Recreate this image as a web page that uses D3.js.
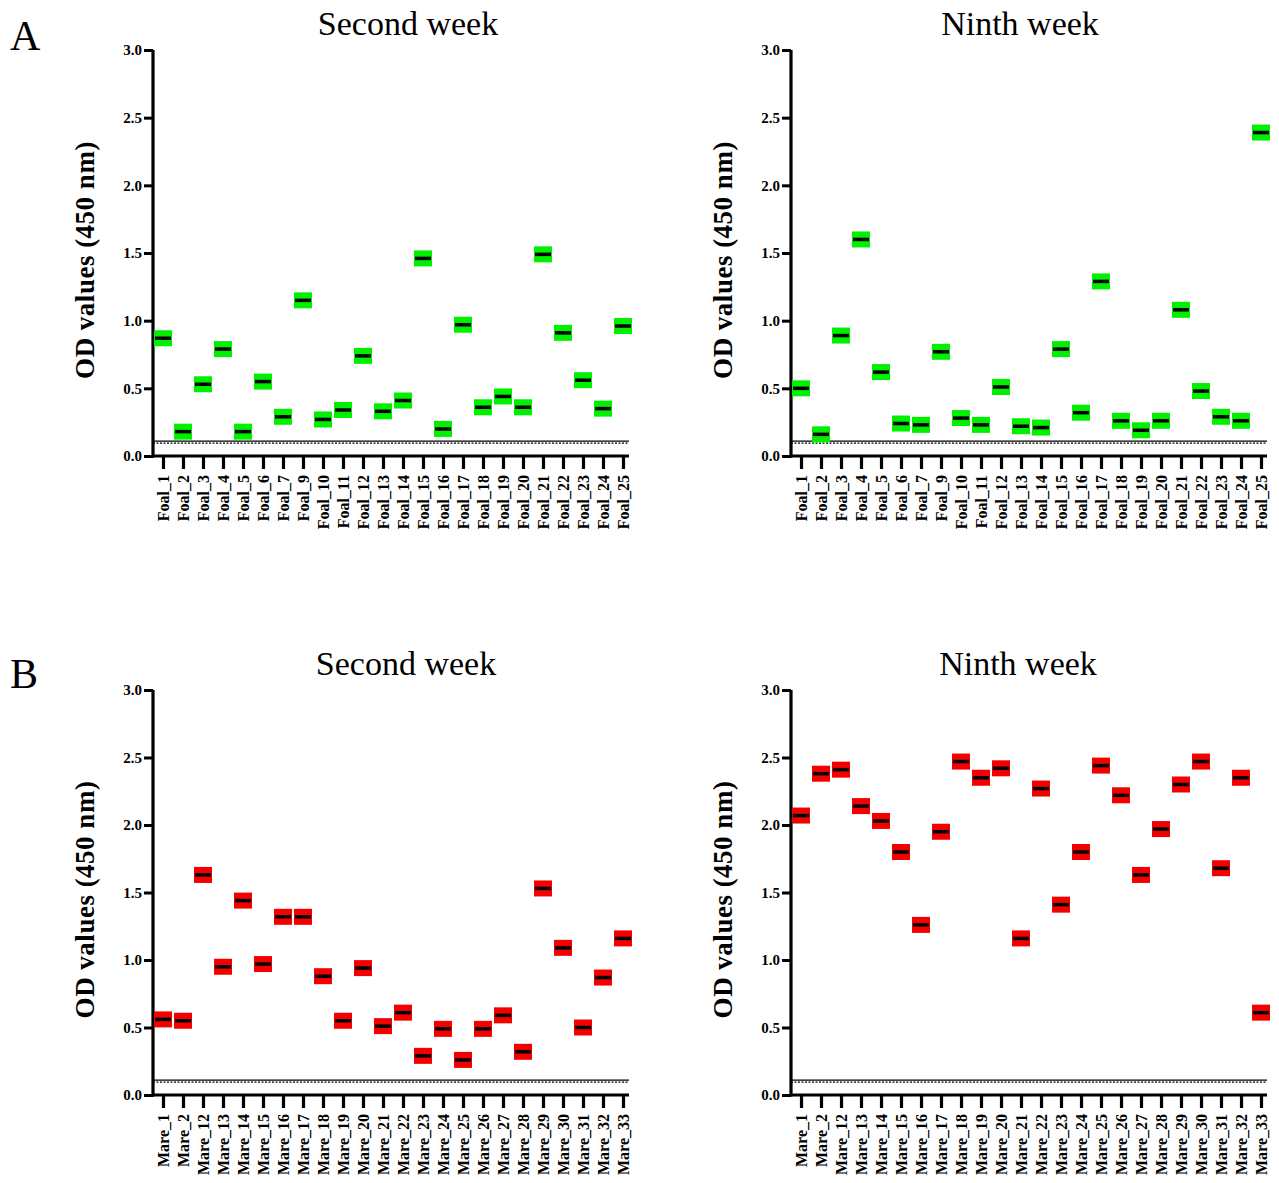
<!DOCTYPE html>
<html>
<head>
<meta charset="utf-8">
<script src="https://cdn.jsdelivr.net/npm/d3@7"></script>
<style>
  body { margin: 0; background: #fff; }
  text { font-family: "Liberation Serif", "Times New Roman", serif; }
</style>
</head>
<body>
<svg id="chart" width="1279" height="1183"></svg>
<script>
// ---- Data ----
const foals = ["Foal_1","Foal_2","Foal_3","Foal_4","Foal_5","Foal_6","Foal_7","Foal_9","Foal_10","Foal_11","Foal_12","Foal_13","Foal_14","Foal_15","Foal_16","Foal_17","Foal_18","Foal_19","Foal_20","Foal_21","Foal_22","Foal_23","Foal_24","Foal_25"];
const mares = ["Mare_1","Mare_2","Mare_12","Mare_13","Mare_14","Mare_15","Mare_16","Mare_17","Mare_18","Mare_19","Mare_20","Mare_21","Mare_22","Mare_23","Mare_24","Mare_25","Mare_26","Mare_27","Mare_28","Mare_29","Mare_30","Mare_31","Mare_32","Mare_33"];

const foalWeek2 = [0.87,0.18,0.53,0.79,0.18,0.55,0.29,1.15,0.27,0.34,0.74,0.33,0.41,1.46,0.20,0.97,0.36,0.44,0.36,1.49,0.91,0.56,0.35,0.96];
const foalWeek9 = [0.50,0.16,0.89,1.60,0.62,0.24,0.23,0.77,0.28,0.23,0.51,0.22,0.21,0.79,0.32,1.29,0.26,0.19,0.26,1.08,0.48,0.29,0.26,2.39];
const mareWeek2 = [0.56,0.55,1.63,0.95,1.44,0.97,1.32,1.32,0.88,0.55,0.94,0.51,0.61,0.29,0.49,0.26,0.49,0.59,0.32,1.53,1.09,0.50,0.87,1.16];
const mareWeek9 = [2.07,2.38,2.41,2.14,2.03,1.80,1.26,1.95,2.47,2.35,2.42,1.16,2.27,1.41,1.80,2.44,2.22,1.63,1.97,2.30,2.47,1.68,2.35,0.61];

const yTicks = [0, 0.5, 1.0, 1.5, 2.0, 2.5, 3.0];
const cutoffSolid = 0.11;
const cutoffDashed = 0.095;

// ---- Layout ----
const panels = [
  { title: "Second week", cats: foals, vals: foalWeek2, color: "#00f000", x0: 153, tx: 408, top: 50, bottom: 456 },
  { title: "Ninth week",  cats: foals, vals: foalWeek9, color: "#00f000", x0: 791, tx: 1020, top: 50, bottom: 456 },
  { title: "Second week", cats: mares, vals: mareWeek2, color: "#f50000", x0: 153, tx: 406, top: 690, bottom: 1095 },
  { title: "Ninth week",  cats: mares, vals: mareWeek9, color: "#f50000", x0: 791, tx: 1018, top: 690, bottom: 1095 }
];

const svg = d3.select("#chart");

svg.append("text").attr("x", 10).attr("y", 50).style("font-size", "42px").text("A");
svg.append("text").attr("x", 10).attr("y", 688).style("font-size", "42px").text("B");

panels.forEach(p => {
  const g = svg.append("g");
  const plotW = 476;

  const y = d3.scaleLinear().domain([0, 3]).range([p.bottom, p.top]);
  const x = d3.scalePoint().domain(p.cats).range([p.x0 + 10, p.x0 + 10 + 20 * (p.cats.length - 1)]);

  // title
  g.append("text")
    .attr("x", p.tx).attr("y", p.top - 15)
    .attr("text-anchor", "middle").style("font-size", "34px")
    .text(p.title);

  // y label
  g.append("text")
    .attr("transform", `translate(${p.x0 - 59},${(p.top + p.bottom) / 2 + 7}) rotate(-90)`)
    .attr("text-anchor", "middle").style("font-size", "27px").style("font-weight", "bold")
    .style("letter-spacing", "0.5px")
    .text("OD values (450 nm)");

  // cutoff lines
  g.append("line")
    .attr("x1", p.x0).attr("x2", p.x0 + plotW)
    .attr("y1", y(cutoffSolid)).attr("y2", y(cutoffSolid))
    .attr("stroke", "#000").attr("stroke-width", 1.3);
  g.append("line")
    .attr("x1", p.x0).attr("x2", p.x0 + plotW)
    .attr("y1", y(cutoffDashed)).attr("y2", y(cutoffDashed))
    .attr("stroke", "#000").attr("stroke-width", 1.3).attr("stroke-dasharray", "2,1.5");

  // y axis
  const yAxis = g.append("g").attr("transform", `translate(${p.x0},0)`)
    .call(d3.axisLeft(y).tickValues(yTicks).tickFormat(d3.format(".1f")).tickSize(9).tickPadding(2));
  yAxis.select(".domain").attr("stroke-width", 3.2).attr("d", `M0,${p.top}V${p.bottom + 1.5}`);
  yAxis.selectAll(".tick line").attr("stroke-width", 3);
  yAxis.selectAll(".tick text").style("font-size", "15px").style("font-weight", "bold")
    .style("font-family", "Liberation Serif, serif").attr("fill", "#000");

  // x axis
  const xAxis = g.append("g").attr("transform", `translate(0,${p.bottom})`)
    .call(d3.axisBottom(x).tickSize(13).tickPadding(4));
  xAxis.select(".domain").attr("stroke-width", 3.2).attr("d", `M${p.x0},0H${p.x0 + plotW}`);
  xAxis.selectAll(".tick line").attr("stroke-width", 3.2);
  xAxis.selectAll(".tick text")
    .style("font-size", "16px").style("font-weight", "bold")
    .style("font-family", "Liberation Serif, serif").attr("fill", "#000")
    .attr("text-anchor", "end").attr("dy", "0.35em")
    .attr("transform", "translate(0,19) rotate(-90)").attr("x", 0).attr("y", 0);

  // markers
  const m = g.selectAll(".mark").data(p.cats.map((c, i) => ({ c, v: p.vals[i] })))
    .enter().append("g").attr("class", "mark")
    .attr("transform", d => `translate(${x(d.c)},${y(d.v)})`);
  m.append("rect").attr("x", -9).attr("y", -8).attr("width", 18).attr("height", 16)
    .attr("fill", p.color);
  m.append("line").attr("x1", -8).attr("x2", 8).attr("y1", 0).attr("y2", 0)
    .attr("stroke", "#000").attr("stroke-width", 3.5);
});
</script>
</body>
</html>
